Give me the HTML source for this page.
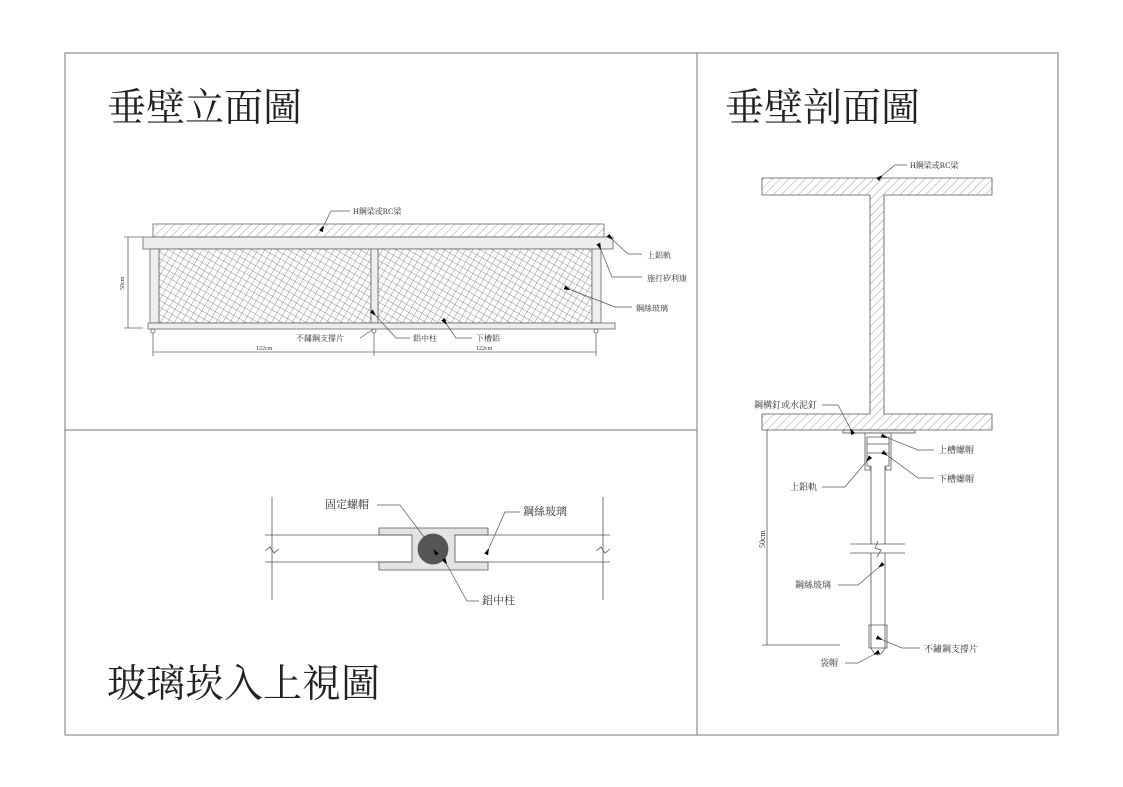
<!DOCTYPE html>
<html><head><meta charset="utf-8"><style>
body{margin:0;background:#fff}
svg{display:block}
text{font-family:"Liberation Serif","Noto Serif CJK SC",serif;fill:#333}
.t{font-size:39px;fill:#222}
</style></head><body>
<svg width="1123" height="787" viewBox="0 0 1123 787" xmlns="http://www.w3.org/2000/svg">
<defs>
<pattern id="h" width="6" height="6" patternUnits="userSpaceOnUse" patternTransform="rotate(45)">
<line x1="0" y1="0" x2="0" y2="6" stroke="#888" stroke-width="0.8"/></pattern>
<pattern id="m" width="6" height="6" patternUnits="userSpaceOnUse" patternTransform="rotate(30)">
<rect width="6" height="6" fill="#fff"/>
<line x1="0" y1="0" x2="0" y2="6" stroke="#777" stroke-width="0.8"/><line x1="0" y1="0" x2="6" y2="0" stroke="#777" stroke-width="0.8"/></pattern>
<marker id="a" viewBox="0 0 10 6" refX="0" refY="3" markerWidth="10" markerHeight="6" orient="auto-start-reverse"><path d="M0,3 L10,0 L10,6z" fill="#000"/></marker>
</defs>
<g fill="none" stroke="#777" stroke-width="1">
<rect x="65" y="53" width="993" height="682"/>
<line x1="697" y1="53" x2="697" y2="735"/>
<line x1="65" y1="430" x2="697" y2="430"/>
</g>
<text class="t" x="107" y="121">垂壁立面圖</text>
<text class="t" x="725" y="121">垂壁剖面圖</text>
<text class="t" x="107" y="697">玻璃崁入上視圖</text>

<!-- elevation -->
<g stroke="#666" stroke-width="0.8">
<rect x="153" y="224" width="451" height="13" fill="url(#h)"/>
<rect x="143" y="237" width="470" height="12" fill="#eee"/>
<rect x="159" y="249" width="212" height="74" fill="url(#m)"/>
<rect x="378" y="249" width="214" height="74" fill="url(#m)"/>
<rect x="150" y="249" width="9" height="74" fill="#eee"/>
<rect x="371" y="249" width="7" height="74" fill="#eee"/>
<rect x="592" y="249" width="9" height="74" fill="#eee"/>
<rect x="148" y="323" width="467" height="6" fill="#eee"/>
<circle cx="153" cy="331" r="2" fill="#fff"/><circle cx="374" cy="331" r="2" fill="#fff"/><circle cx="596" cy="331" r="2" fill="#fff"/>
<line x1="128" y1="237" x2="128" y2="328"/><line x1="124" y1="237" x2="143" y2="237"/><line x1="124" y1="328" x2="143" y2="328"/>
<line x1="153" y1="352" x2="596" y2="352"/>
<line x1="153" y1="333" x2="153" y2="356"/><line x1="374" y1="333" x2="374" y2="356"/><line x1="596" y1="333" x2="596" y2="356"/>
</g>
<g stroke="#555" stroke-width="0.7" fill="none">
<polyline points="324,225 331,211 350,211" marker-start="url(#a)"/>
<polyline points="613,240 628,254 642,254" marker-start="url(#a)"/>
<polyline points="601,250 612,277 642,277" marker-start="url(#a)"/>
<polyline points="571,290 615,307 632,307" marker-start="url(#a)"/>
<polyline points="360,338 372,330"/>
<polyline points="376,316 396,338 410,338" marker-start="url(#a)"/>
<polyline points="447,325 456,338 472,338" marker-start="url(#a)"/>
</g>
<text x="353" y="214" font-size="8">H鋼梁或RC梁</text>
<text x="647" y="258" font-size="8">上鋁軌</text>
<text x="647" y="281" font-size="8">施打矽利康</text>
<text x="636" y="311" font-size="8">鋼絲玻璃</text>
<text x="296" y="341" font-size="8">不鏽鋼支撐片</text>
<text x="413" y="341" font-size="8">鋁中柱</text>
<text x="476" y="341" font-size="8">下槽鋁</text>
<text x="256" y="350" font-size="6">122cm</text>
<text x="476" y="350" font-size="6">122cm</text>
<text x="0" y="0" font-size="6" transform="translate(124,290) rotate(-90)">50cm</text>

<!-- section -->
<g stroke="#555" stroke-width="0.8">
<path d="M762,178 H992 V195 H884 V414 H992 V430 H762 V414 H870 V195 H762 Z" fill="url(#h)"/>
<rect x="843" y="430" width="72" height="3" fill="#eee"/>
<path d="M865,433 V470 H870 V466 H867 V437 H889 V466 H886 V470 H891 V433" fill="none"/>
<line x1="867" y1="444" x2="889" y2="444"/><line x1="867" y1="453" x2="889" y2="453"/>
<line x1="871" y1="466" x2="871" y2="648" fill="none"/><line x1="885" y1="466" x2="885" y2="648"/>
<rect x="850" y="544" width="55" height="9" fill="#fff" stroke="none"/>
<line x1="850" y1="544" x2="905" y2="544"/><line x1="850" y1="553" x2="905" y2="553"/>
<polyline points="878,541 875,548 881,550 877,557" fill="none"/>
<path d="M869,625 V648 H887 V625 Z" fill="none"/>
<path d="M871,648 Q878,662 885,648" fill="none"/>
<line x1="767" y1="430" x2="767" y2="645"/><line x1="762" y1="645" x2="840" y2="645"/>
</g>
<g stroke="#555" stroke-width="0.7" fill="none">
<polyline points="883,175 895,165 907,165" marker-start="url(#a)"/>
<polyline points="850,428 838,405 822,405" marker-start="url(#a)"/>
<polyline points="888,438 918,450 934,450" marker-start="url(#a)"/>
<polyline points="888,456 918,478 934,478" marker-start="url(#a)"/>
<polyline points="866,462 845,487 822,487" marker-start="url(#a)"/>
<polyline points="878,568 858,585 838,585" marker-start="url(#a)"/>
<polyline points="883,640 902,648 920,648" marker-start="url(#a)"/>
<polyline points="873,655 858,663 845,663" marker-start="url(#a)"/>
</g>
<text x="910" y="168" font-size="8">H鋼梁或RC梁</text>
<text x="754" y="408" font-size="9">鋼構釘或水泥釘</text>
<text x="938" y="453" font-size="9">上槽螺帽</text>
<text x="938" y="482" font-size="9">下槽螺帽</text>
<text x="790" y="490" font-size="9">上鋁軌</text>
<text x="795" y="588" font-size="9">鋼絲玻璃</text>
<text x="924" y="652" font-size="9">不鏽鋼支撐片</text>
<text x="820" y="666" font-size="9">袋帽</text>
<text font-size="8" transform="translate(765,548) rotate(-90)">50cm</text>

<!-- top view -->
<g stroke="#555" stroke-width="0.8">
<line x1="272" y1="497" x2="272" y2="600"/><line x1="603" y1="497" x2="603" y2="600"/>
<path d="M379,528 H488 V535 H455 V562 H488 V570 H379 V562 H412 V535 H379 Z" fill="#e3e3e3"/>
<line x1="265" y1="535" x2="412" y2="535"/><line x1="265" y1="562" x2="412" y2="562"/>
<line x1="455" y1="535" x2="610" y2="535"/><line x1="455" y1="562" x2="610" y2="562"/>
<circle cx="433" cy="549" r="15" fill="#555"/>
<polyline points="265,551 270,547 274,553 279,549" fill="none"/>
<polyline points="596,551 601,547 605,553 610,549" fill="none"/>
</g>
<g stroke="#555" stroke-width="0.7" fill="none">
<polyline points="433,549 400,505 377,505" marker-start="url(#a)"/>
<polyline points="489,548 505,512 520,512" marker-start="url(#a)"/>
<polyline points="447,565 467,601 479,601" marker-start="url(#a)"/>
</g>
<text x="325" y="508" font-size="11">固定螺帽</text>
<text x="523" y="515" font-size="11">鋼絲玻璃</text>
<text x="482" y="604" font-size="11">鋁中柱</text>
</svg>
</body></html>
